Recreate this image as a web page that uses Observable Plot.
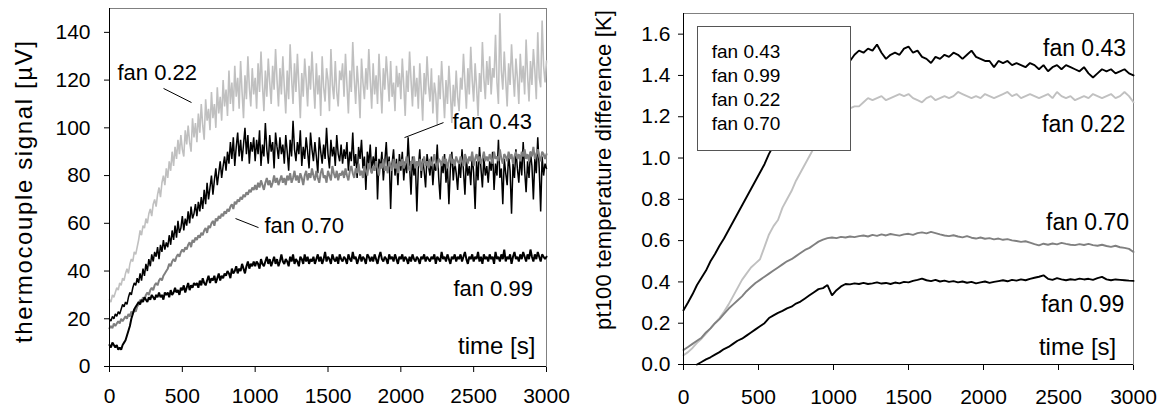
<!DOCTYPE html>
<html>
<head>
<meta charset="utf-8">
<script src="https://cdn.jsdelivr.net/npm/d3@7"></script>
<script src="https://cdn.jsdelivr.net/npm/@observablehq/plot@0.6"></script>
<style>
  html, body { margin: 0; padding: 0; background: #fff; }
  #fig { position: relative; width: 1170px; height: 412px; background: #fff; overflow: hidden;
         font-family: "Liberation Sans", Arial, sans-serif; }
  #fig > .panel { position: absolute; top: 0; }
  #legend { position: absolute; left: 697px; top: 26px; width: 154px; height: 125px; box-sizing: border-box;
            border: 1px solid #555; background: #fff; padding: 12.7px 0 0 13.7px;
            font-size: 19px; line-height: 24px; color: #000; }
  #titles { position: absolute; left: 0; top: 0; pointer-events: none; }
</style>
</head>
<body>
<div id="fig">
  <div class="panel" id="left" style="left:0px"></div>
  <div class="panel" id="right" style="left:580px"></div>
  <div id="legend"><div>fan 0.43</div><div>fan 0.99</div><div>fan 0.22</div><div>fan 0.70</div></div>
  <svg id="titles" width="1170" height="412"></svg>
</div>
<script>
// ---------------- data ----------------
const xTicks = [0, 500, 1000, 1500, 2000, 2500, 3000];
const yTicksLeft = [0, 20, 40, 60, 80, 100, 120, 140];
const yTicksRight = [0, 0.2, 0.4, 0.6, 0.8, 1.0, 1.2, 1.4, 1.6];

// left panel: thermocouple signal [µV], sampled every 10 s (0..3000)
const tLeft = d3.range(0, 3001, 10);
const tc022 = [
  28,27,30,29,31,33,32,35,34,37,36,39,41,39,43,45,44,48,47,50,
  53,57,55,59,58,62,60,64,66,63,68,70,67,72,75,71,77,80,76,83,
  79,86,82,90,84,92,87,95,89,97,91,88,99,93,101,94,90,104,96,102,
  94,106,98,110,101,95,112,103,108,99,115,104,110,100,117,106,113,103,120,109,
  116,105,124,110,119,107,126,113,121,108,128,115,104,122,112,130,117,109,125,114,
  121,108,127,115,132,118,107,124,113,129,119,110,126,116,133,120,109,125,114,130,
  117,106,124,112,135,121,110,127,115,131,118,104,123,113,129,120,109,126,116,132,
  119,108,127,114,122,105,130,117,111,125,120,107,133,118,112,128,115,109,124,120,
  127,113,131,118,106,124,115,136,121,110,126,117,104,129,119,112,125,116,133,120,
  108,127,114,122,110,131,118,106,125,116,130,121,111,128,113,119,107,126,117,123,
  112,129,118,105,124,115,132,120,109,126,113,121,108,127,116,103,123,114,130,118,
  111,125,106,119,114,101,122,112,128,116,104,120,110,126,115,102,118,109,124,113,
  107,121,116,131,119,108,125,114,134,120,111,127,117,105,123,115,136,121,112,128,
  118,130,114,125,121,139,119,110,148,124,116,132,120,109,127,118,135,123,113,129,
  121,110,131,119,126,114,137,122,111,128,118,133,124,112,140,121,117,145,126,119,
  128
];
const tc043 = [
  20,19,21,20,22,21,23,22,24,26,25,27,26,29,31,30,33,35,34,37,
  35,39,36,41,38,43,40,45,42,47,44,48,46,50,45,51,48,53,49,52,
  50,55,51,57,53,59,54,61,56,58,63,57,62,59,65,60,67,62,64,68,
  63,69,65,71,66,74,68,77,70,75,80,72,78,83,76,81,86,79,84,88,
  82,90,85,94,87,96,84,92,98,88,95,86,93,100,89,97,85,94,90,96,
  86,95,89,99,84,93,88,102,91,85,97,90,94,83,98,92,87,96,89,93,
  85,97,90,82,95,88,103,91,86,94,89,99,84,92,87,96,90,83,98,91,
  86,94,88,81,96,90,85,93,87,100,89,83,95,88,92,84,97,89,86,93,
  85,91,87,94,82,90,86,98,84,89,79,92,87,95,83,88,74,90,85,93,
  81,88,84,92,70,87,83,90,78,86,94,82,88,66,85,91,80,87,76,89,
  82,90,78,86,81,96,84,72,88,80,85,65,83,91,79,87,82,75,89,84,
  80,88,76,85,82,93,79,70,86,81,89,77,84,68,83,90,78,86,81,74,
  85,79,91,82,72,87,80,84,76,89,81,66,86,78,92,83,75,88,80,84,
  77,86,82,90,74,85,80,95,79,83,68,87,81,76,89,82,64,85,79,91,
  83,77,88,80,94,82,73,86,79,90,84,70,87,81,96,83,65,88,80,85,
  83
];
const tc070 = [
  16,17,16,18,17,18,19,18,20,19,20,21,20,22,21,23,22,24,23,25,
  26,28,27,29,28,30,31,30,32,33,32,34,35,34,36,37,36,38,39,40,
  41,43,42,44,45,44,46,47,46,48,49,48,50,49,51,52,50,53,52,54,
  53,55,54,56,55,57,58,56,59,58,60,61,59,62,61,63,62,64,63,65,
  64,66,65,67,68,66,69,68,70,69,71,70,72,71,73,72,74,73,75,74,
  76,74,77,75,78,76,74,77,79,76,78,75,77,80,77,79,76,78,80,77,
  79,76,80,78,81,77,79,82,78,80,77,81,79,76,80,82,78,81,79,83,
  80,78,82,79,77,81,83,79,80,77,82,80,78,84,81,79,82,78,81,80,
  82,79,83,80,78,82,84,81,79,83,81,85,80,82,79,84,82,80,85,83,
  81,84,82,86,83,80,85,83,87,82,84,81,86,84,82,87,83,85,81,86,
  84,87,83,85,88,84,82,86,85,88,83,86,84,87,82,85,88,84,86,83,
  87,84,86,89,85,83,87,86,84,88,85,87,83,86,89,85,87,84,88,86,
  85,88,86,84,89,87,85,88,86,90,84,87,89,86,88,85,87,90,86,88,
  86,89,87,85,90,87,88,86,91,87,85,89,88,86,90,87,89,85,88,90,
  87,89,86,90,88,91,87,89,86,90,88,92,87,89,91,88,86,90,89,87,
  89
];
const tc099 = [
  9,8,10,9,8,9,7,8,7,9,10,11,13,15,17,20,22,24,25,26,
  27,26,28,27,29,28,27,29,28,30,29,28,30,29,31,29,30,28,31,30,
  31,29,32,30,31,33,31,32,30,33,32,34,31,33,35,32,34,33,35,34,
  35,33,36,34,37,35,34,36,38,35,37,36,38,35,37,39,36,38,37,39,
  38,40,39,37,41,39,40,42,39,41,40,43,41,39,42,44,41,43,42,44,
  42,44,43,41,45,43,42,44,46,43,45,42,44,46,43,45,42,44,47,44,
  43,45,44,42,46,44,47,43,45,44,42,46,45,43,47,44,46,43,45,44,
  46,43,45,47,44,46,43,45,48,44,46,45,43,47,45,44,46,43,47,45,
  44,46,45,43,47,45,44,48,45,46,43,45,47,44,46,45,43,47,46,44,
  46,44,47,45,43,46,48,45,44,46,45,43,47,45,46,44,47,45,43,46,
  45,47,44,46,45,43,46,44,47,45,44,46,45,43,46,45,47,44,46,45,
  44,46,45,47,43,46,45,44,48,45,46,44,47,45,43,46,45,47,44,46,
  45,47,44,46,48,45,43,46,45,47,44,46,45,48,44,46,43,47,45,46,
  44,47,45,46,43,48,45,46,44,47,45,49,44,46,45,47,43,46,48,45,
  46,44,47,45,48,46,44,47,45,49,46,44,47,45,48,46,44,47,46,45,
  46
];

// right panel: pt100 temperature difference [K], sampled every 30 s (0..3000)
const tRight = d3.range(0, 3001, 30);
const pt043 = [
  0.263,0.30,0.34,0.385,0.42,0.455,0.50,0.535,0.575,0.61,
  0.65,0.69,0.73,0.77,0.81,0.85,0.89,0.93,0.97,1.02,
  1.06,1.10,1.14,1.18,1.22,1.26,1.30,1.34,1.38,1.42,
  1.45,1.47,1.48,1.49,1.49,1.48,1.48,1.47,1.50,1.52,
  1.51,1.53,1.52,1.55,1.51,1.48,1.50,1.51,1.50,1.53,
  1.54,1.51,1.52,1.49,1.48,1.46,1.49,1.48,1.50,1.49,
  1.51,1.50,1.48,1.50,1.52,1.49,1.48,1.47,1.47,1.44,
  1.47,1.46,1.47,1.45,1.46,1.45,1.44,1.46,1.45,1.43,
  1.45,1.42,1.44,1.45,1.43,1.45,1.44,1.43,1.42,1.44,
  1.41,1.39,1.41,1.43,1.42,1.43,1.41,1.42,1.43,1.41,
  1.40
];
const pt022 = [
  0.045,0.06,0.08,0.105,0.125,0.15,0.175,0.20,0.225,0.255,
  0.29,0.33,0.37,0.41,0.44,0.47,0.49,0.51,0.57,0.63,
  0.67,0.70,0.76,0.80,0.84,0.89,0.93,0.97,1.01,1.05,
  1.09,1.13,1.17,1.20,1.22,1.23,1.24,1.24,1.25,1.25,
  1.27,1.29,1.28,1.29,1.30,1.28,1.29,1.30,1.31,1.30,
  1.31,1.29,1.28,1.27,1.29,1.30,1.28,1.29,1.30,1.29,
  1.30,1.32,1.31,1.30,1.29,1.30,1.29,1.31,1.30,1.29,
  1.30,1.31,1.32,1.30,1.31,1.29,1.30,1.31,1.30,1.29,
  1.30,1.31,1.29,1.32,1.30,1.29,1.30,1.28,1.29,1.30,
  1.29,1.31,1.30,1.29,1.30,1.31,1.29,1.30,1.32,1.30,
  1.27
];
const pt070 = [
  0.07,0.085,0.10,0.115,0.13,0.155,0.175,0.20,0.22,0.245,
  0.27,0.29,0.31,0.33,0.355,0.375,0.395,0.41,0.425,0.44,
  0.455,0.47,0.485,0.50,0.51,0.525,0.54,0.555,0.565,0.58,
  0.595,0.605,0.612,0.615,0.612,0.618,0.615,0.62,0.617,0.622,
  0.625,0.62,0.628,0.623,0.63,0.625,0.632,0.628,0.624,0.63,
  0.633,0.628,0.636,0.64,0.635,0.642,0.636,0.63,0.625,0.622,
  0.626,0.62,0.616,0.622,0.614,0.61,0.615,0.609,0.612,0.606,
  0.61,0.604,0.607,0.601,0.598,0.594,0.597,0.59,0.583,0.577,
  0.585,0.58,0.586,0.582,0.589,0.584,0.58,0.578,0.583,0.579,
  0.584,0.578,0.575,0.58,0.574,0.57,0.575,0.568,0.565,0.56,
  0.545
];
const pt099 = [
  null,null,null,0.0,0.012,0.025,0.035,0.048,0.06,0.075,
  0.085,0.10,0.115,0.125,0.14,0.155,0.17,0.185,0.20,0.225,
  0.238,0.25,0.26,0.272,0.28,0.295,0.305,0.32,0.335,0.35,
  0.365,0.37,0.385,0.335,0.36,0.378,0.39,0.388,0.393,0.39,
  0.395,0.39,0.393,0.398,0.392,0.395,0.39,0.397,0.393,0.40,
  0.398,0.405,0.41,0.416,0.408,0.404,0.41,0.402,0.406,0.40,
  0.404,0.398,0.402,0.396,0.40,0.393,0.398,0.402,0.395,0.40,
  0.404,0.408,0.403,0.41,0.406,0.412,0.408,0.415,0.42,0.425,
  0.432,0.415,0.41,0.418,0.412,0.408,0.413,0.41,0.416,0.412,
  0.415,0.41,0.418,0.424,0.412,0.408,0.412,0.41,0.408,0.406,
  0.405
];

// annotations (data coordinates)
const leftLabelsStart = [
  {x: 55,   y: 120.2, text: "fan 0.22"},
  {x: 2355, y: 99.7,  text: "fan 0.43"},
  {x: 1064, y: 56.1,  text: "fan 0.70"},
  {x: 2361, y: 29.7,  text: "fan 0.99"}
];
const leftTimeLabel = [{x: 2924, y: 5.4, text: "time [s]"}];
const leftLeaders = [
  {x1: 371,  y1: 116.5, x2: 563,  y2: 110.6},
  {x1: 2293, y1: 102.2, x2: 2025, y2: 95.9},
  {x1: 865,  y1: 62.0,  x2: 1023, y2: 58.2}
];
const rightLabelsEnd = [
  {x: 2951, y: 1.496, text: "fan 0.43"},
  {x: 2945, y: 1.125, text: "fan 0.22"},
  {x: 2971, y: 0.653, text: "fan 0.70"},
  {x: 2939, y: 0.254, text: "fan 0.99"}
];
const rightTimeLabel = [{x: 2885, y: 0.045, text: "time [s]"}];

// ---------------- drawing ----------------
const FONT = '"Liberation Sans", Arial, Helvetica, sans-serif';
const LIGHT = "#c0c0c0", MID = "#808080", DARK = "#000000";

function series(values, times, color, width) {
  return Plot.line(values, {x: (d, i) => times[i], y: d => d, stroke: color, strokeWidth: width, curve: "linear", strokeLinejoin: "miter"});
}

const left = Plot.plot({
  width: 580, height: 412,
  marginLeft: 109, marginRight: 34, marginTop: 8, marginBottom: 46,
  style: {fontFamily: FONT, fontSize: "21px", color: "#000", background: "transparent", overflow: "visible"},
  x: {domain: [0, 3000], ticks: xTicks, tickSize: 6, tickPadding: 16, label: null, tickFormat: d => String(d)},
  y: {domain: [0, 150], ticks: yTicksLeft, tickSize: 5, tickPadding: 14, label: null, tickFormat: d => String(d)},
  marks: [
    Plot.frame({stroke: "#808080"}),
    series(tc022, tLeft, LIGHT, 1.6),
    series(tc043, tLeft, DARK, 1.5),
    series(tc070, tLeft, MID, 2.0),
    series(tc099, tLeft, DARK, 2.0),
    Plot.ruleX([0], {stroke: "#000"}),
    Plot.ruleY([0], {stroke: "#000"}),
    Plot.link(leftLeaders, {x1: "x1", y1: "y1", x2: "x2", y2: "y2", stroke: "#000", strokeWidth: 1}),
    Plot.text(leftLabelsStart, {x: "x", y: "y", text: "text", textAnchor: "start", lineAnchor: "bottom", fontSize: 22, fill: "#000"}),
    Plot.text(leftTimeLabel, {x: "x", y: "y", text: "text", textAnchor: "end", lineAnchor: "bottom", fontSize: 24, fill: "#000"})
  ]
});
document.getElementById("left").appendChild(left);

const right = Plot.plot({
  width: 590, height: 412,
  marginLeft: 103, marginRight: 37, marginTop: 13, marginBottom: 48,
  style: {fontFamily: FONT, fontSize: "21px", color: "#000", background: "transparent", overflow: "visible"},
  x: {domain: [0, 3000], ticks: xTicks, tickSize: 6, tickPadding: 19, label: null, tickFormat: d => String(d)},
  y: {domain: [0, 1.7], ticks: yTicksRight, tickSize: 5, tickPadding: 8, label: null, tickFormat: d => d.toFixed(1)},
  marks: [
    Plot.frame({stroke: "#808080"}),
    series(pt022, tRight, LIGHT, 1.9),
    series(pt070, tRight, MID, 1.9),
    series(pt099, tRight, DARK, 1.9),
    series(pt043, tRight, DARK, 1.9),
    Plot.ruleX([0], {stroke: "#000"}),
    Plot.ruleY([0], {stroke: "#000"}),
    Plot.text(rightLabelsEnd, {x: "x", y: "y", text: "text", textAnchor: "end", lineAnchor: "bottom", fontSize: 23, fill: "#000"}),
    Plot.text(rightTimeLabel, {x: "x", y: "y", text: "text", textAnchor: "end", lineAnchor: "bottom", fontSize: 24, fill: "#000"})
  ]
});
document.getElementById("right").appendChild(right);

// axis titles (rotated)
const titles = d3.select("#titles");
[
  {cx: 23, cy: 192, len: 302, size: 24, text: "thermocouple signal [µV]"},
  {cx: 603, cy: 170, len: 320, size: 22, text: "pt100 temperature difference [K]"}
].forEach(t => {
  titles.append("text")
    .attr("transform", `translate(${t.cx},${t.cy}) rotate(-90)`)
    .attr("text-anchor", "middle")
    .attr("dominant-baseline", "central")
    .attr("font-family", FONT)
    .attr("font-size", t.size)
    .attr("textLength", t.len)
    .attr("lengthAdjust", "spacing")
    .attr("fill", "#000")
    .text(t.text);
});
</script>
</body>
</html>
